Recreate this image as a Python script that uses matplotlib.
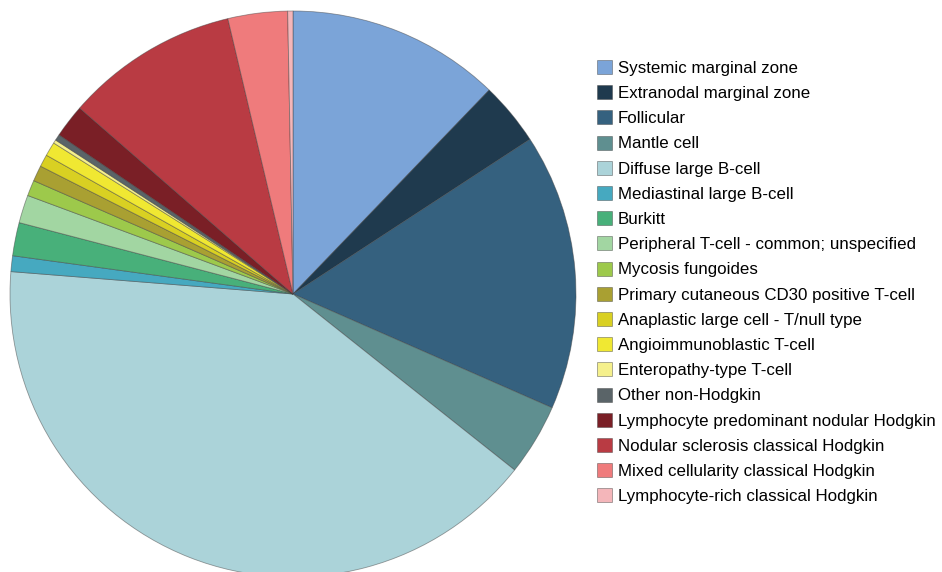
import matplotlib
matplotlib.use("Agg")
import matplotlib.pyplot as plt

plt.rcParams['font.family'] = ['Liberation Sans', 'DejaVu Sans']

# Categorias (en orden horario desde arriba)
categorias = [
    'Systemic marginal zone',
    'Extranodal marginal zone',
    'Follicular',
    'Mantle cell',
    'Diffuse large B-cell',
    'Mediastinal large B-cell',
    'Burkitt',
    'Peripheral T-cell - common; unspecified',
    'Mycosis fungoides',
    'Primary cutaneous CD30 positive T-cell',
    'Anaplastic large cell - T/null type',
    'Angioimmunoblastic T-cell',
    'Enteropathy-type T-cell',
    'Other non-Hodgkin',
    'Lymphocyte predominant nodular Hodgkin',
    'Nodular sclerosis classical Hodgkin',
    'Mixed cellularity classical Hodgkin',
    'Lymphocyte-rich classical Hodgkin',
]

# Porcentajes estimados
porcentajes = [12.2, 3.6, 15.8, 4.1, 40.6, 0.9, 1.9, 1.6, 0.9, 0.9,
               0.7, 0.8, 0.2, 0.35, 1.9, 9.9, 3.4, 0.3]

colores = ['#7ba4d8', '#1f3a4e', '#35617f', '#5f8f90', '#abd3d9', '#46a9c0',
           '#48b07a', '#a2d6a2', '#9dc94b', '#a9a032', '#d9d022', '#f0e832',
           '#f5f08c', '#5a6468', '#7a1f26', '#b93b43', '#ef7b7c', '#f4b6ba']

fig = plt.figure(figsize=(9.42, 5.72), dpi=100)
ax = fig.add_axes([10 / 942, -5 / 572, 566 / 942, 566 / 572])

wedges, _ = ax.pie(porcentajes, colors=colores, startangle=90, counterclock=False,
                   radius=1.0,
                   wedgeprops=dict(edgecolor='#40404080', linewidth=0.6))
ax.set_xlim(-1, 1)
ax.set_ylim(-1, 1)
ax.set_aspect('equal')

fig.legend(wedges, categorias, loc='upper left',
           bbox_to_anchor=(597 / 942, 1 - 60 / 572),
           frameon=False, fontsize=12.2, handlelength=0.9, handleheight=0.9,
           handletextpad=0.33, labelspacing=0.55, borderaxespad=0, borderpad=0)

fig.savefig('out.png', dpi=100)
